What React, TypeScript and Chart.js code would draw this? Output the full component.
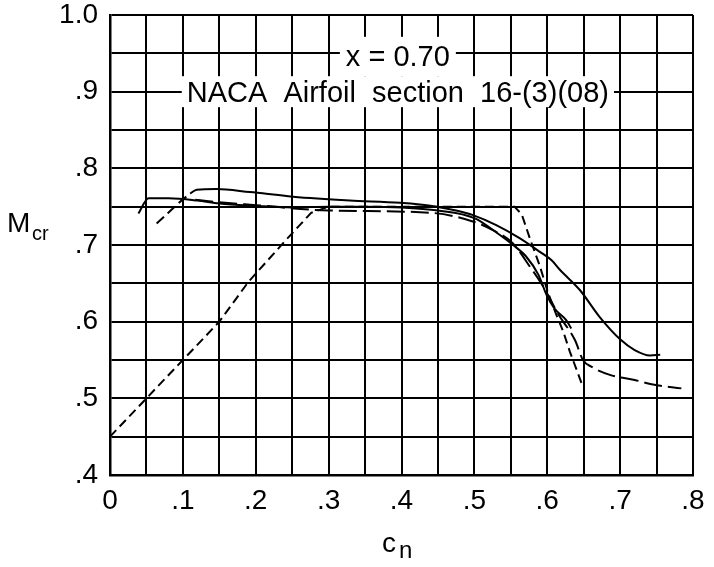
import React, { useEffect, useRef } from "react";
import { Chart, registerables } from "chart.js";

Chart.register(...registerables);

const FONT = "'Liberation Sans', Arial, sans-serif";

// Short-dash curve
const shortDashCn = [0, 0.1, 0.15, 0.19, 0.24, 0.276, 0.3, 0.555, 0.565, 0.576, 0.59, 0.601, 0.612, 0.622, 0.631, 0.647];
const shortDashMcr = [0.45, 0.55, 0.6, 0.652, 0.705, 0.742, 0.75, 0.75, 0.74, 0.709, 0.672, 0.638, 0.61, 0.587, 0.561, 0.52];

// Lower solid curve
const solidLowCn = [0.039, 0.053, 0.08, 0.12, 0.15, 0.2, 0.25, 0.3, 0.35, 0.4, 0.45, 0.5, 0.535, 0.553, 0.571, 0.588, 0.599, 0.61, 0.626, 0.633];
const solidLowMcr = [0.741, 0.761, 0.761, 0.758, 0.754, 0.751, 0.749, 0.75, 0.75, 0.749, 0.745, 0.735, 0.713, 0.7, 0.685, 0.661, 0.635, 0.617, 0.602, 0.591];

// Upper solid curve (first segment dashed)
const solidHighCn = [0.064, 0.11, 0.119, 0.146, 0.192, 0.251, 0.329, 0.398, 0.448, 0.475, 0.498, 0.53, 0.562, 0.59, 0.606, 0.617, 0.645, 0.672, 0.7, 0.72, 0.741, 0.755];
const solidHighMcr = [0.728, 0.767, 0.772, 0.773, 0.769, 0.763, 0.758, 0.755, 0.75, 0.745, 0.739, 0.726, 0.709, 0.691, 0.68, 0.668, 0.641, 0.606, 0.577, 0.563, 0.556, 0.557];

// Long-dash curve
const longDashCn = [0.117, 0.146, 0.2, 0.3, 0.44, 0.5, 0.526, 0.553, 0.576, 0.595, 0.615, 0.638, 0.649, 0.661, 0.688, 0.72, 0.745, 0.784];
const longDashMcr = [0.759, 0.756, 0.752, 0.745, 0.742, 0.73, 0.719, 0.702, 0.672, 0.645, 0.61, 0.576, 0.55, 0.541, 0.53, 0.524, 0.518, 0.513];

const xTickValues = [0, 0.1, 0.2, 0.3, 0.4, 0.5, 0.6, 0.7, 0.8];
const xTickLabels = ["0", ".1", ".2", ".3", ".4", ".5", ".6", ".7", ".8"];
const yTickValues = [0.4, 0.5, 0.6, 0.7, 0.8, 0.9, 1.0];
const yTickLabels = [".4", ".5", ".6", ".7", ".8", ".9", "1.0"];

const titleLine1 = "x = 0.70";
const titleLine2 = "NACA  Airfoil  section  16-(3)(08)";
const yTitleMain = "M";
const yTitleSub = "cr";
const xTitleMain = "c";
const xTitleSub = "n";

function pts(xs: number[], ys: number[]) {
  return xs.map((x, i) => ({ x, y: ys[i] }));
}

function labelFor(value: number, values: number[], labels: string[]) {
  const i = values.findIndex((v) => Math.abs(v - value) < 1e-6);
  return i >= 0 ? labels[i] : "";
}

const textPlugin = {
  id: "figText",
  afterDraw(chart: any) {
    const { ctx, scales } = chart;
    const xs = scales.x;
    const ys = scales.y;
    ctx.save();
    ctx.font = `29px ${FONT}`;
    const cx = xs.getPixelForValue(0.395);
    const w1 = ctx.measureText(titleLine1).width;
    const w2 = ctx.measureText(titleLine2).width;
    const b1 = ys.getPixelForValue(0.95) + 12.5;
    const b2 = ys.getPixelForValue(0.9) + 10.5;
    ctx.fillStyle = "#fff";
    ctx.fillRect(cx - w1 / 2 - 6, b1 - 29, w1 + 12, b2 - 26 - (b1 - 29));
    ctx.fillRect(cx - w2 / 2 - 5, b2 - 26, w2 + 10, 31);
    ctx.fillStyle = "#000";
    ctx.textAlign = "center";
    ctx.textBaseline = "alphabetic";
    ctx.fillText(titleLine1, cx, b1);
    ctx.fillText(titleLine2, cx, b2);

    // axis titles
    ctx.textAlign = "left";
    ctx.font = `28px ${FONT}`;
    ctx.fillText(yTitleMain, 7, 232);
    ctx.font = `20px ${FONT}`;
    ctx.fillText(yTitleSub, 32, 240);
    ctx.font = `28px ${FONT}`;
    ctx.fillText(xTitleMain, 382, 552);
    ctx.font = `24px ${FONT}`;
    ctx.fillText(xTitleSub, 399, 558);
    ctx.restore();
  },
};

export default function App() {
  const ref = useRef<HTMLCanvasElement | null>(null);

  useEffect(() => {
    if (!ref.current) return;
    const common = {
      borderColor: "#000",
      borderWidth: 2,
      pointRadius: 0,
      fill: false,
    };
    const chart = new Chart(ref.current, {
      type: "line",
      data: {
        datasets: [
          {
            ...common,
            label: "short dash",
            data: pts(shortDashCn, shortDashMcr),
            borderDash: [9, 5],
            tension: 0,
          },
          {
            ...common,
            label: "solid low",
            data: pts(solidLowCn, solidLowMcr),
            cubicInterpolationMode: "monotone",
          },
          {
            ...common,
            label: "solid high",
            data: pts(solidHighCn, solidHighMcr),
            cubicInterpolationMode: "monotone",
            segment: {
              borderDash: (c: any) => (c.p0DataIndex < 1 ? [10, 5] : undefined),
            },
          },
          {
            ...common,
            label: "long dash",
            data: pts(longDashCn, longDashMcr),
            borderDash: [18, 6],
            cubicInterpolationMode: "monotone",
          },
        ],
      },
      options: {
        animation: false,
        responsive: true,
        maintainAspectRatio: false,
        layout: { padding: { top: 15, right: 21, left: 0, bottom: 0 } },
        plugins: {
          legend: { display: false },
          tooltip: { enabled: false },
        },
        scales: {
          x: {
            type: "linear",
            min: 0,
            max: 0.8,
            grid: { color: "#000", lineWidth: 2, drawTicks: false },
            border: { display: true, color: "#000", width: 2.5 },
            ticks: {
              stepSize: 0.05,
              autoSkip: false,
              maxRotation: 0,
              padding: 12,
              color: "#000",
              font: { family: FONT, size: 28, lineHeight: 1 },
              callback: (v: any) => labelFor(Number(v), xTickValues, xTickLabels),
            },
            afterFit: (s: any) => {
              s.height = 92;
              s.paddingLeft = 0;
              s.paddingRight = 0;
            },
          },
          y: {
            type: "linear",
            min: 0.4,
            max: 1.0,
            grid: { color: "#000", lineWidth: 2, drawTicks: false },
            border: { display: true, color: "#000", width: 2.5 },
            ticks: {
              stepSize: 0.05,
              autoSkip: false,
              padding: 12,
              color: "#000",
              font: { family: FONT, size: 28, lineHeight: 1 },
              callback: (v: any) => labelFor(Number(v), yTickValues, yTickLabels),
            },
            afterFit: (s: any) => {
              s.width = 110;
              s.paddingTop = 0;
              s.paddingBottom = 0;
            },
          },
        },
      },
      plugins: [textPlugin],
    });
    return () => chart.destroy();
  }, []);

  return (
    <div style={{ position: "fixed", left: 0, top: 0, width: 714, height: 567, background: "#fff" }}>
      <canvas ref={ref} />
    </div>
  );
}
